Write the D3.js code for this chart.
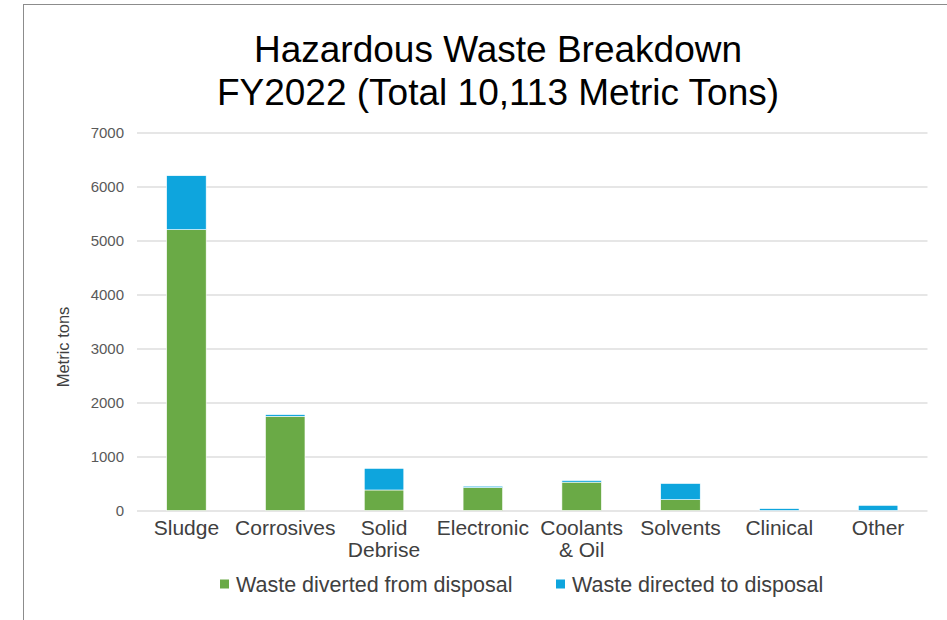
<!DOCTYPE html>
<html>
<head>
<meta charset="utf-8">
<script src="https://cdn.jsdelivr.net/npm/d3@7"></script>
<style>
	body { margin: 0; background: #fff; }
	svg { display: block; font-family: 'Liberation Sans', Arial, sans-serif; }
</style>
</head>
<body>
<script>
var categories = ['Sludge', 'Corrosives', 'Solid Debrise', 'Electronic', 'Coolants & Oil', 'Solvents', 'Clinical', 'Other'];
var categoryLabels = ['Sludge', 'Corrosives', 'Solid\nDebrise', 'Electronic', 'Coolants\n& Oil', 'Solvents', 'Clinical', 'Other'];
var diverted = [5200, 1745, 380, 425, 525, 200, 0, 0];
var directed = [1000, 30, 400, 25, 30, 300, 35, 95];
var seriesNames = ['Waste diverted from disposal', 'Waste directed to disposal'];
var seriesColors = ['#6aaa46', '#0ea5dd'];
var yTicks = [0, 1000, 2000, 3000, 4000, 5000, 6000, 7000];
var titleLines = ['Hazardous Waste Breakdown', 'FY2022 (Total 10,113 Metric Tons)'];

var width = 947, height = 620;

var svg = d3.select('body').append('svg')
	.attr('width', width)
	.attr('height', height);

// frame (only left and top edges are visible)
svg.append('rect')
	.attr('x', 23.5)
	.attr('y', 4.5)
	.attr('width', 1000)
	.attr('height', 1000)
	.attr('fill', 'none')
	.attr('stroke', '#8c8c8c')
	.attr('stroke-width', 1);

var x = d3.scaleBand()
	.domain(categories)
	.range([137, 927.5])
	.paddingInner(0.6)
	.paddingOuter(0.3);

var y = d3.scaleLinear()
	.domain([0, 7000])
	.range([510.5, 132.5]);

// gridlines + tick labels
var yAxis = svg.append('g')
	.attr('transform', 'translate(137,0)')
	.call(d3.axisLeft(y)
		.tickValues(yTicks)
		.tickSize(-(927.5 - 137))
		.tickPadding(13)
		.tickFormat(d3.format('d')));

yAxis.select('.domain').remove();
yAxis.selectAll('line')
	.attr('stroke', '#dedede')
	.attr('stroke-width', 1.4);
yAxis.selectAll('text')
	.attr('fill', '#595959')
	.style('font-size', '15px');

// stacked bars
var rows = categories.map(function (c, i) {
	return { cat: c, diverted: diverted[i], directed: directed[i] };
});

var stack = d3.stack().keys(['diverted', 'directed']);
var layers = stack(rows);

svg.append('g').selectAll('g')
	.data(layers)
	.join('g')
		.attr('fill', function (d, i) { return seriesColors[i]; })
	.selectAll('rect')
	.data(function (d) { return d.filter(function (p) { return p[1] - p[0] > 0; }); })
	.join('rect')
		.attr('x', function (d) { return x(d.data.cat); })
		.attr('y', function (d) { return y(d[1]); })
		.attr('width', x.bandwidth())
		.attr('height', function (d) { return y(d[0]) - y(d[1]); })
		.attr('stroke', '#ffffff')
		.attr('stroke-width', 0.6);

// category labels, one text per line
var catGroups = svg.append('g').selectAll('g')
	.data(categories)
	.join('g')
		.attr('transform', function (d) { return 'translate(' + [x(d) + x.bandwidth() / 2, 535] + ')'; });

catGroups.each(function (d, i) {
	var g = d3.select(this);
	categoryLabels[i].split('\n').forEach(function (line, j) {
		g.append('text')
			.attr('y', j * 22)
			.attr('text-anchor', 'middle')
			.attr('fill', '#404040')
			.style('font-size', '21px')
			.text(line);
	});
});

// title
svg.append('g').selectAll('text')
	.data(titleLines)
	.join('text')
		.attr('x', 498)
		.attr('y', function (d, i) { return 62 + i * 43; })
		.attr('text-anchor', 'middle')
		.attr('fill', '#000')
		.style('font-size', '37px')
		.text(function (d) { return d; });

// y axis title
svg.append('text')
	.attr('transform', 'translate(69,347) rotate(-90)')
	.attr('text-anchor', 'middle')
	.attr('fill', '#404040')
	.style('font-size', '16.5px')
	.text('Metric tons');

// legend
var legendX = [220, 556];
var legend = svg.append('g').selectAll('g')
	.data(seriesNames)
	.join('g')
		.attr('transform', function (d, i) { return 'translate(' + [legendX[i], 584] + ')'; });

legend.append('rect')
	.attr('x', 0)
	.attr('y', -4.5)
	.attr('width', 9)
	.attr('height', 9)
	.attr('fill', function (d, i) { return seriesColors[i]; });

legend.append('text')
	.attr('x', 16)
	.attr('y', 7.5)
	.attr('fill', '#404040')
	.style('font-size', '21.5px')
	.text(function (d) { return d; });
</script>
</body>
</html>
